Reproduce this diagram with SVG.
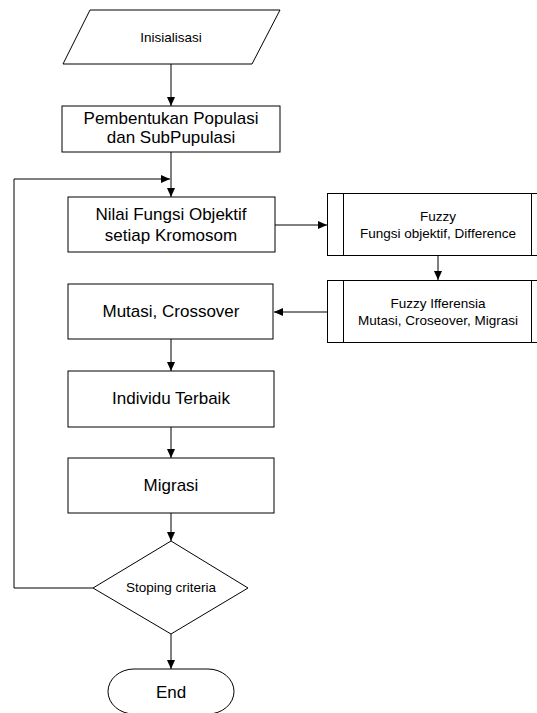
<svg xmlns="http://www.w3.org/2000/svg" width="537" height="713" viewBox="0 0 537 713">
<defs>
<marker id="ah" markerWidth="10" markerHeight="10" refX="9" refY="5" orient="auto" markerUnits="userSpaceOnUse">
<path d="M0,1 L9,5 L0,9 Z" fill="#000"/>
</marker>
<style>
.s{fill:#fff;stroke:#000;stroke-width:1}
.c{fill:none;stroke:#000;stroke-width:1}
.t{font-family:"Liberation Sans",Arial,sans-serif;fill:#000;text-anchor:middle}
.big{font-size:17px}
.sm{font-size:13.5px}
</style>
</defs>
<rect width="537" height="713" fill="#fff"/>
<g id="connectors">
<line class="c" x1="171" y1="64" x2="171" y2="106" marker-end="url(#ah)"/>
<line class="c" x1="171" y1="152" x2="171" y2="197" marker-end="url(#ah)"/>
<polyline class="c" points="93,588 14,588 14,179 170,179" marker-end="url(#ah)"/>
<line class="c" x1="275" y1="225" x2="327" y2="225" marker-end="url(#ah)"/>
<line class="c" x1="438" y1="256" x2="438" y2="280" marker-end="url(#ah)"/>
<line class="c" x1="327" y1="312" x2="274" y2="312" marker-end="url(#ah)"/>
<line class="c" x1="171" y1="339" x2="171" y2="371" marker-end="url(#ah)"/>
<line class="c" x1="171" y1="427" x2="171" y2="458" marker-end="url(#ah)"/>
<line class="c" x1="171" y1="513" x2="171" y2="541" marker-end="url(#ah)"/>
<line class="c" x1="171" y1="634" x2="171" y2="669" marker-end="url(#ah)"/>
</g>
<g id="inisialisasi">
<polygon class="s" points="90,10 280,10 252,64 63,64"/>
<text class="t sm" x="171" y="42">Inisialisasi</text>
</g>
<g id="pembentukan">
<rect class="s" x="62" y="106" width="218" height="46"/>
<text class="t big" x="171" y="124">Pembentukan Populasi</text>
<text class="t big" x="171" y="143">dan SubPupulasi</text>
</g>
<g id="nilai">
<rect class="s" x="68" y="197" width="207" height="55"/>
<text class="t big" x="171" y="220">Nilai Fungsi Objektif</text>
<text class="t big" x="171" y="241">setiap Kromosom</text>
</g>
<g id="fuzzy1">
<rect class="s" x="327.5" y="193.5" width="220" height="62"/>
<line class="c" x1="343.5" y1="193.5" x2="343.5" y2="255.5"/>
<line class="c" x1="531.5" y1="193.5" x2="531.5" y2="255.5"/>
<text class="t sm" x="438" y="221">Fuzzy</text>
<text class="t sm" x="438" y="238">Fungsi objektif, Difference</text>
</g>
<g id="fuzzy2">
<rect class="s" x="327.5" y="280.5" width="220" height="62"/>
<line class="c" x1="343.5" y1="280.5" x2="343.5" y2="342.5"/>
<line class="c" x1="531.5" y1="280.5" x2="531.5" y2="342.5"/>
<text class="t sm" x="438" y="308">Fuzzy Ifferensia</text>
<text class="t sm" x="438" y="325">Mutasi, Croseover, Migrasi</text>
</g>
<g id="mutasi">
<rect class="s" x="68" y="284" width="205" height="55"/>
<text class="t big" x="171" y="317">Mutasi, Crossover</text>
</g>
<g id="individu">
<rect class="s" x="68" y="371" width="206" height="56"/>
<text class="t big" x="171" y="404">Individu Terbaik</text>
</g>
<g id="migrasi">
<rect class="s" x="68" y="458" width="206" height="55"/>
<text class="t big" x="171" y="491">Migrasi</text>
</g>
<g id="stoping">
<polygon class="s" points="171,541 248,588 171,634 93,588"/>
<text class="t sm" x="171" y="592">Stoping criteria</text>
</g>
<g id="end">
<rect class="s" x="108" y="669" width="126" height="45" rx="26" ry="22.5"/>
<text class="t big" x="171" y="698">End</text>
</g>
</svg>
